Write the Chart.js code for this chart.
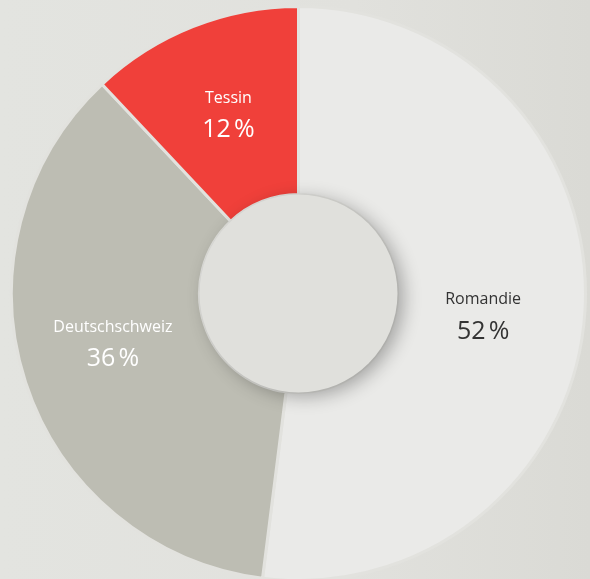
<!DOCTYPE html>
<html>
<head>
<meta charset="utf-8">
<script src="https://cdn.jsdelivr.net/npm/chart.js@4"></script>
<style>
  html, body { margin:0; padding:0; }
  body { width:590px; height:579px; background:linear-gradient(90deg,#e3e4e0 0%,#e1e1dd 60%,#dadad5 100%); overflow:hidden; }
  #wrap { position:relative; width:590px; height:579px; }
</style>
</head>
<body>
<div id="wrap"><canvas id="regionChart" width="590" height="579"></canvas></div>
<script>
const regions = ['Romandie', 'Deutschschweiz', 'Tessin'];
const shares = [52, 36, 12];
const shareLabels = ['52 %', '36 %', '12 %'];

// base, dark rim, light band
const sliceTones = [
  ['#eaeae8', '#c6c6c2', '#ececea'],
  ['#bdbdb3', '#a7a79d', '#c3c3b9'],
  ['#f0403a', '#d4332e', '#f2443e']
];
const textColors = ['#333333', '#ffffff', '#ffffff'];
const labelNudge = [[-8, 10], [-2, -10], [1, 0]];

function ringFill(ctx) {
  const chart = ctx.chart;
  const meta = chart.getDatasetMeta(0);
  const arc = meta.data[ctx.dataIndex];
  if (!arc || !arc.outerRadius) return sliceTones[ctx.dataIndex][0];
  const t = sliceTones[ctx.dataIndex];
  const g = chart.ctx.createRadialGradient(arc.x, arc.y, arc.innerRadius, arc.x, arc.y, arc.outerRadius);
  g.addColorStop(0, t[1]);
  g.addColorStop(0.18, t[0]);
  g.addColorStop(0.7, t[2]);
  g.addColorStop(0.94, t[0]);
  g.addColorStop(1, t[1]);
  return g;
}

const centreDisc = {
  id: 'centreDisc',
  afterDatasetsDraw(chart) {
    const arc = chart.getDatasetMeta(0).data[0];
    const c = chart.ctx;
    c.save();
    c.beginPath();
    c.arc(arc.x, arc.y, 99, 0, Math.PI * 2);
    c.shadowColor = 'rgba(0,0,0,0.3)';
    c.shadowBlur = 18;
    c.shadowOffsetX = 6;
    c.shadowOffsetY = 4;
    c.fillStyle = '#e0e0dc';
    c.fill();
    c.restore();

    chart.getDatasetMeta(0).data.forEach((el, i) => {
      const p = el.tooltipPosition();
      const x = p.x + labelNudge[i][0];
      const y = p.y + labelNudge[i][1];
      c.save();
      c.fillStyle = textColors[i];
      c.textAlign = 'center';
      c.textBaseline = 'middle';
      c.font = '16px "Open Sans", sans-serif';
      c.fillText(regions[i], x, y - 16);
      c.font = '25px "Open Sans", sans-serif';
      c.fillText(shareLabels[i].replace(' ', '\u202F'), x, y + 16);
      c.restore();
    });
  }
};

new Chart(document.getElementById('regionChart'), {
  type: 'doughnut',
  data: {
    labels: regions,
    datasets: [{ data: shares, backgroundColor: ringFill, borderWidth: 3, borderColor: '#e2e2de', spacing: 0 }]
  },
  options: {
    responsive: false,
    animation: false,
    radius: 287,
    cutout: 98,
    layout: { padding: { left: 13, right: 6, top: 8, bottom: 0 } },
    plugins: { legend: { display: false }, tooltip: { enabled: false } }
  },
  plugins: [centreDisc]
});
</script>
</body>
</html>
